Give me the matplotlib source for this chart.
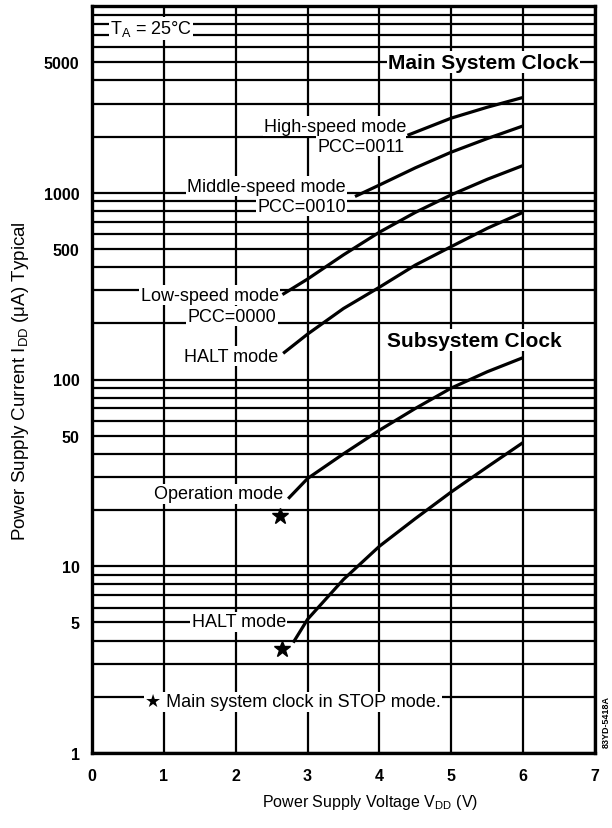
import numpy as np
import matplotlib
matplotlib.use('Agg')
import matplotlib.pyplot as plt
from matplotlib.ticker import LogLocator, NullFormatter

plt.rcParams['font.family'] = ['Liberation Sans', 'DejaVu Sans']

# main system clock curves (V, uA)
v_high = [4.39, 5.0, 5.5, 6.0]
i_high = [2030, 2510, 2870, 3240]
v_mid = [3.66, 4.0, 4.5, 5.0, 5.5, 6.0]
i_mid = [955, 1100, 1360, 1650, 1950, 2280]
v_low = [2.65, 3.0, 3.5, 4.0, 4.5, 5.0, 5.5, 6.0]
i_low = [285, 345, 465, 615, 785, 975, 1180, 1400]
v_halt = [2.66, 3.0, 3.5, 4.0, 4.5, 5.0, 5.5, 6.0]
i_halt = [138, 175, 240, 312, 410, 515, 645, 786]

# subsystem clock curves
v_sub_op = [2.73, 3.0, 3.5, 4.0, 4.5, 5.0, 5.5, 6.0]
i_sub_op = [23, 29.5, 40, 53.5, 70, 90, 110, 131]
v_sub_halt = [2.8, 3.0, 3.5, 4.0, 4.5, 5.0, 5.5, 6.0]
i_sub_halt = [3.9, 5.2, 8.5, 12.8, 18, 25, 34, 46]

# star points (main clock in STOP)
v_star = [2.61, 2.65]
i_star = [18.6, 3.6]

xticks = [0, 1, 2, 3, 4, 5, 6, 7]
yticks = [1, 5, 10, 50, 100, 500, 1000, 5000]

fig = plt.figure(figsize=(6.12, 8.29), dpi=100)
ax = fig.add_axes([92/612, 75/829, 503/612, 747/829])

ax.set_yscale('log')
ax.set_xlim(0, 7)
ax.set_ylim(1, 10000)

ax.set_xticks(xticks)
ax.set_xticklabels([str(t) for t in xticks], fontsize=11.5, fontweight='bold')
ax.set_yticks(yticks)
ax.set_yticklabels([str(t) for t in yticks], fontsize=11.5, fontweight='bold')
ax.yaxis.set_minor_locator(LogLocator(base=10, subs=np.arange(1, 10), numticks=30))
ax.yaxis.set_minor_formatter(NullFormatter())
ax.tick_params(which='both', length=0)
ax.tick_params(axis='y', pad=9)
ax.tick_params(axis='x', pad=11)

ax.set_axisbelow(True)
ax.grid(True, which='both', axis='y', color='black', lw=1.6)
ax.grid(True, which='major', axis='x', color='black', lw=1.6)
for s in ax.spines.values():
    s.set_linewidth(2.4)

for v, i in [(v_high, i_high), (v_mid, i_mid), (v_low, i_low), (v_halt, i_halt),
             (v_sub_op, i_sub_op), (v_sub_halt, i_sub_halt)]:
    ax.plot(v, i, color='black', lw=2.3, zorder=5, solid_capstyle='butt')

ax.plot(v_star, i_star, marker='*', ms=12, color='black', ls='none', zorder=5)

box = dict(facecolor='white', edgecolor='none', pad=1.0)


def label(x, y, s, ha='right', size=13, weight='normal'):
    ax.text(x, y, s, ha=ha, va='center', fontsize=size, fontweight=weight,
            bbox=box, zorder=3)


label(0.25, 7600, r'$\mathregular{T_A}$ = 25°C', ha='left')
label(4.12, 5000, 'Main System Clock', ha='left', size=15, weight='bold')
label(4.10, 162, 'Subsystem Clock', ha='left', size=15, weight='bold')

label(4.38, 2274, 'High-speed mode')
label(4.35, 1775, 'PCC=0011')
label(3.53, 1084, 'Middle-speed mode')
label(3.53, 847, 'PCC=0010')
label(2.60, 282, 'Low-speed mode')
label(2.57, 218, 'PCC=0000')
label(2.59, 133, 'HALT mode')
label(2.66, 24.5, 'Operation mode')
label(2.70, 5.04, 'HALT mode')
label(0.74, 1.88, '★ Main system clock in STOP mode.', ha='left')

fig.text(21/612, 1 - 381/829, r'Power Supply Current I$_{\mathregular{DD}}$ (μA) Typical',
         rotation=90, ha='center', va='center', fontsize=13.5)
fig.text(370/612, 1 - 803/829, r'Power Supply Voltage V$_{\mathregular{DD}}$ (V)',
         ha='center', va='center', fontsize=11.5)
fig.text(606/612, 1 - 722/829, '83YD-5418A', rotation=90, ha='center', va='center',
         fontsize=6.5, fontweight='bold')

fig.savefig('out.png', dpi=100)
